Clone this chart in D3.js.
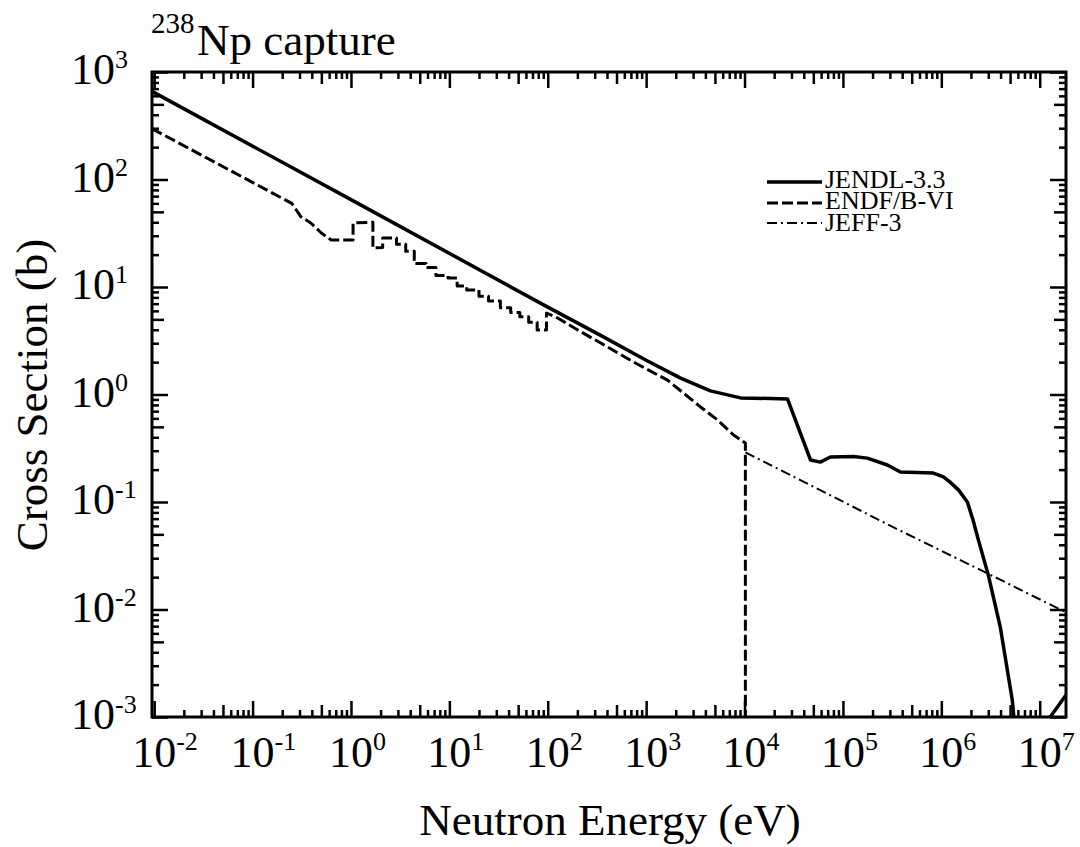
<!DOCTYPE html>
<html>
<head>
<meta charset="utf-8">
<script src="https://cdn.jsdelivr.net/npm/d3@7"></script>
<style>
  body { margin: 0; background: #fff; }
  svg text { font-family: "Liberation Serif", "Times New Roman", serif; fill: #000; }
</style>
</head>
<body>
<svg id="chart" width="1080" height="847"></svg>
<script>
// decades shown on the axes
var xTickExps = [-2, -1, 0, 1, 2, 3, 4, 5, 6, 7];
var yTickExps = [-3, -2, -1, 0, 1, 2, 3];

// JENDL-3.3 capture (eV, barn)
var jendlE  = [0.0095, 1, 100, 345, 1000, 2240, 4500, 9100, 27300, 46800, 59000, 74600,
               128000, 177000, 283000, 384000, 830000, 1050000, 1230000, 1500000, 1840000,
               2100000, 2380000, 3000000, 3970000, 5260000, 6000000, 11000000, 12800000, 18500000];
var jendlXS = [660, 65, 6.5, 3.55, 2.08, 1.42, 1.08, 0.93, 0.91, 0.246, 0.235, 0.262,
               0.265, 0.256, 0.221, 0.19, 0.186, 0.171, 0.153, 0.129, 0.1,
               0.068, 0.0444, 0.021, 0.0069, 0.00144, 0.0004, 0.0004, 0.001, 0.0016];

// ENDF/B-VI: low-energy points, the group staircase, then the smooth part
var endfLowE  = [0.0095, 0.25, 0.31, 0.39, 0.5, 0.63, 1.05, 1.05, 1.67, 1.67, 2.1];
var endfLowXS = [297, 60, 45, 39.4, 31.8, 27.4, 27.4, 39.4, 40, 23.1, 23.3];
var endfStepEdges = [2.1, 2.9, 3.6, 4.4, 5.8, 7.3, 9.7, 12, 15, 20, 25, 33, 42, 52, 64, 78, 97];
var endfStepXS    = [28.6, 25, 21.5, 16.5, 15.2, 12.8, 12.1, 10.2, 9.4, 8.2, 7.4, 6.4, 5.8, 5.3, 4.7, 3.98];
var endfHighE  = [97, 126, 202, 345, 747, 1650, 3570, 5320, 7730, 10200, 10200];
var endfHighXS = [5.73, 5.15, 3.98, 3.01, 2.0, 1.36, 0.766, 0.58, 0.42, 0.354, 0.0001];

// JEFF-3 (only the part above 10 keV differs)
var jeffE  = [10200, 384000, 3000000, 18500000];
var jeffXS = [0.29, 0.054, 0.0215, 0.0094];

var legendNames = ["JENDL-3.3", "ENDF/B-VI", "JEFF-3"];

var svg = d3.select("#chart");
var pLeft = 152, pRight = 1066, pTop = 72, pBottom = 717;

var x = d3.scaleLog().domain([0.0095, 1.85e7]).range([pLeft, pRight]);
var y = d3.scaleLog().domain([1e-3, 1e3]).range([pBottom, pTop]);

function zip(a, b) { return a.map(function (v, i) { return [v, b[i]]; }); }

var jendl = zip(jendlE, jendlXS);
var endf = zip(endfLowE, endfLowXS);
endfStepXS.forEach(function (v, i) {
    endf.push([endfStepEdges[i], v]);
    endf.push([endfStepEdges[i + 1], v]);
});
endf = endf.concat(zip(endfHighE, endfHighXS));
var jeff = zip(jeffE, jeffXS);

var styles = [
    { data: jendl, width: 3.5, dash: null },
    { data: endf,  width: 3,   dash: "11,4" },
    { data: jeff,  width: 2,   dash: "10,4,2,4" }
];

svg.append("clipPath").attr("id", "plotclip")
    .append("rect").attr("x", pLeft).attr("y", pTop)
    .attr("width", pRight - pLeft).attr("height", pBottom - pTop);

var line = d3.line()
    .x(function (d) { return x(d[0]); })
    .y(function (d) { return y(d[1]); });

var curves = svg.append("g").attr("clip-path", "url(#plotclip)");
styles.forEach(function (s) {
    curves.append("path")
        .attr("d", line(s.data))
        .attr("fill", "none")
        .attr("stroke", "#000")
        .attr("stroke-width", s.width)
        .attr("stroke-dasharray", s.dash)
        .attr("stroke-linejoin", "round");
});

// tick values
function minors(exps, lo, hi, mults) {
    var out = [];
    exps.concat([exps[0] - 1]).forEach(function (e) {
        mults.forEach(function (m) {
            var v = m * Math.pow(10, e);
            if (v > lo && v < hi) out.push(v);
        });
    });
    return out;
}
var xDom = x.domain(), yDom = y.domain();
var xMaj = xTickExps.map(function (e) { return Math.pow(10, e); });
var yMaj = yTickExps.map(function (e) { return Math.pow(10, e); });
var xMin = minors(xTickExps, xDom[0], xDom[1], [2, 3, 4, 6, 7, 8, 9]);
var xMid = minors(xTickExps, xDom[0], xDom[1], [5]);
var yMin = minors(yTickExps, yDom[0], yDom[1], [2, 3, 4, 6, 7, 8, 9]);
var yMid = minors(yTickExps, yDom[0], yDom[1], [5]);

function drawAxis(maker, scale, translate) {
    [[xMaj, yMaj, 16], [xMid, yMid, 12], [xMin, yMin, 7]].forEach(function (t) {
        var vals = (scale === x) ? t[0] : t[1];
        var g = svg.append("g")
            .attr("transform", translate)
            .call(maker(scale).tickValues(vals).tickFormat("").tickSize(-t[2]).tickSizeOuter(0));
        g.select(".domain").remove();
        g.selectAll(".tick line").attr("stroke", "#000").attr("stroke-width", 2.5);
    });
}
drawAxis(d3.axisBottom, x, "translate(0," + pBottom + ")");
drawAxis(d3.axisTop, x, "translate(0," + pTop + ")");
drawAxis(d3.axisLeft, y, "translate(" + pLeft + ",0)");
drawAxis(d3.axisRight, y, "translate(" + pRight + ",0)");

svg.append("rect")
    .attr("x", pLeft).attr("y", pTop)
    .attr("width", pRight - pLeft).attr("height", pBottom - pTop)
    .attr("fill", "none").attr("stroke", "#000").attr("stroke-width", 3);

// tick labels
xTickExps.forEach(function (e) {
    var px = x(Math.pow(10, e));
    svg.append("text").attr("x", px).attr("y", 767)
        .attr("text-anchor", "middle").style("font-size", "44px").text("10");
    svg.append("text").attr("x", px + 22).attr("y", 750)
        .style("font-size", "26px").text(e);
});
yTickExps.forEach(function (e) {
    var py = y(Math.pow(10, e));
    svg.append("text").attr("x", 115).attr("y", py + 12)
        .attr("text-anchor", "end").style("font-size", "44px").text("10");
    svg.append("text").attr("x", 115).attr("y", py - 4)
        .style("font-size", "26px").text(e);
});

// axis titles
svg.append("text").attr("x", 610).attr("y", 835)
    .attr("text-anchor", "middle").style("font-size", "45px").text("Neutron Energy (eV)");
svg.append("text")
    .attr("transform", "translate(47,395) rotate(-90)")
    .attr("text-anchor", "middle").style("font-size", "45px").text("Cross Section (b)");

// title
svg.append("text").attr("x", 151).attr("y", 33).style("font-size", "29px").text("238");
svg.append("text").attr("x", 197).attr("y", 55).style("font-size", "45px").text("Np capture");

// legend
var legY = [182, 203, 223], legTextY = [188, 209, 231];
legendNames.forEach(function (name, i) {
    svg.append("line")
        .attr("x1", 767).attr("x2", 822).attr("y1", legY[i]).attr("y2", legY[i])
        .attr("stroke", "#000").attr("stroke-width", styles[i].width)
        .attr("stroke-dasharray", styles[i].dash);
    svg.append("text").attr("x", 825).attr("y", legTextY[i])
        .style("font-size", "26px").text(name);
});
</script>
</body>
</html>
